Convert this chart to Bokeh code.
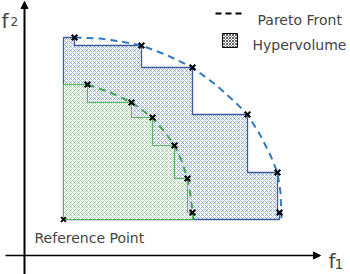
from bokeh.plotting import figure
from bokeh.models import Range1d, Arrow, NormalHead, Label
from bokeh.embed import file_html
from bokeh.resources import INLINE

# ---- data (f1, f2), axis origin at (0, 0) ----
ref_point = (3.9, 3.6)

outer_f1 = [5.0, 11.7, 16.8, 22.3, 25.3, 25.5]
outer_f2 = [21.8, 21.0, 18.8, 14.1, 8.3, 4.3]

inner_f1 = [6.3, 10.7, 12.8, 15.0, 16.3, 16.8]
inner_f2 = [17.1, 15.3, 13.8, 11.0, 7.7, 4.3]

# Pareto front curves
outer_curve_f1 = [5.0, 7.6, 9.6, 11.7, 14.1, 16.8, 19.1, 21.1, 22.3, 23.6, 24.6, 25.3, 25.6, 25.7]
outer_curve_f2 = [21.8, 21.7, 21.4, 21.0, 20.1, 18.8, 17.1, 15.3, 14.1, 12.0, 10.0, 8.3, 6.3, 3.6]

inner_curve_f1 = [6.3, 8.6, 10.7, 12.8, 14.3, 15.0, 15.7, 16.3, 16.6, 16.9]
inner_curve_f2 = [17.1, 16.3, 15.3, 13.8, 12.0, 11.0, 9.5, 7.7, 6.0, 3.6]

legend_labels = ["Pareto Front", "Hypervolume"]

BLUE = "#3a6cc4"
BLUE_EDGE = "#3b5b9e"
BLUE_DASH = "#2f78c8"
GREEN = "#4caf50"
GREEN_DASH = "#41a64c"
FONT = "DejaVu Sans"


def staircase(xs, ys, ref):
    rx, ry = ref
    px, py = [rx, rx], [ry, ys[0]]
    for i in range(len(xs)):
        px.append(xs[i]); py.append(ys[i])
        nxt = ys[i + 1] if i + 1 < len(xs) else ry
        px.append(xs[i]); py.append(nxt)
    return px, py


p = figure(width=350, height=274, output_backend="svg", toolbar_location=None,
           x_range=Range1d(-2.4, 32.6), y_range=Range1d(-1.9, 25.5),
           min_border=0, outline_line_color=None)
p.axis.visible = False
p.grid.visible = False
p.background_fill_color = "white"
p.border_fill_color = "white"

# hypervolume regions
bx, by = staircase(outer_f1, outer_f2, ref_point)
p.patch(bx, by, fill_color="white", line_color=BLUE_EDGE, line_width=1.3,
        hatch_pattern="diagonal_cross", hatch_color=BLUE, hatch_scale=4,
        hatch_weight=0.6, hatch_alpha=0.85)

gx, gy = staircase(inner_f1, inner_f2, ref_point)
p.patch(gx, gy, fill_color="white", line_color=GREEN, line_width=1.0,
        line_alpha=0.9,
        hatch_pattern="diagonal_cross", hatch_color=GREEN, hatch_scale=4,
        hatch_weight=0.6, hatch_alpha=0.85)

# pareto fronts
p.line(outer_curve_f1, outer_curve_f2, line_color=BLUE_DASH, line_width=2,
       line_dash="7 5")
p.line(inner_curve_f1, inner_curve_f2, line_color=GREEN_DASH, line_width=2,
       line_dash="7 5")

# points
p.scatter(outer_f1, outer_f2, marker="x", size=8, line_color="black", line_width=2)
p.scatter(inner_f1, inner_f2, marker="x", size=8, line_color="black", line_width=2)
p.scatter([ref_point[0]], [ref_point[1]], marker="x", size=7, line_color="black",
          line_width=1.8)

# axes with arrows
p.add_layout(Arrow(end=NormalHead(size=7, fill_color="black", line_color="black"),
                   x_start=0, y_start=-1.9, x_end=0, y_end=25.4,
                   line_width=2, line_color="black"))
p.add_layout(Arrow(end=NormalHead(size=7, fill_color="black", line_color="black"),
                   x_start=-1.9, y_start=0, x_end=29.6, y_end=0,
                   line_width=1.6, line_color="black"))

# axis names f2 / f1
p.add_layout(Label(x=-2.3, y=23.5, text="f", text_font=FONT, text_font_size="20px",
                   text_baseline="alphabetic"))
p.add_layout(Label(x=-1.4, y=23.4, text="2", text_font=FONT, text_font_size="12px",
                   text_baseline="alphabetic"))
p.add_layout(Label(x=30.4, y=-0.5, text="f", text_font=FONT, text_font_size="20px",
                   text_baseline="alphabetic"))
p.add_layout(Label(x=31.0, y=-0.8, text="1", text_font=FONT, text_font_size="14px",
                   text_baseline="alphabetic"))

p.add_layout(Label(x=1.0, y=1.8, text="Reference Point", text_font=FONT,
                   text_font_size="14px", text_baseline="alphabetic"))

# legend (drawn manually)
p.add_layout(Arrow(end=None, x_start=19.1, y_start=24.2, x_end=22.1, y_end=24.2,
                   line_width=2, line_color="black", line_dash="6 4"))
p.add_layout(Label(x=23.3, y=23.6, text=legend_labels[0], text_font=FONT,
                   text_font_size="14px", text_baseline="alphabetic"))
p.quad(left=[19.8], right=[21.3], bottom=[20.8], top=[22.2], fill_color="white",
       line_color="black", line_width=1,
       hatch_pattern="diagonal_cross", hatch_color="black", hatch_scale=3,
       hatch_weight=0.6)
p.add_layout(Label(x=22.8, y=21.1, text=legend_labels[1], text_font=FONT,
                   text_font_size="14px", text_baseline="alphabetic"))

open("out.html", "w").write(file_html(p, INLINE))
